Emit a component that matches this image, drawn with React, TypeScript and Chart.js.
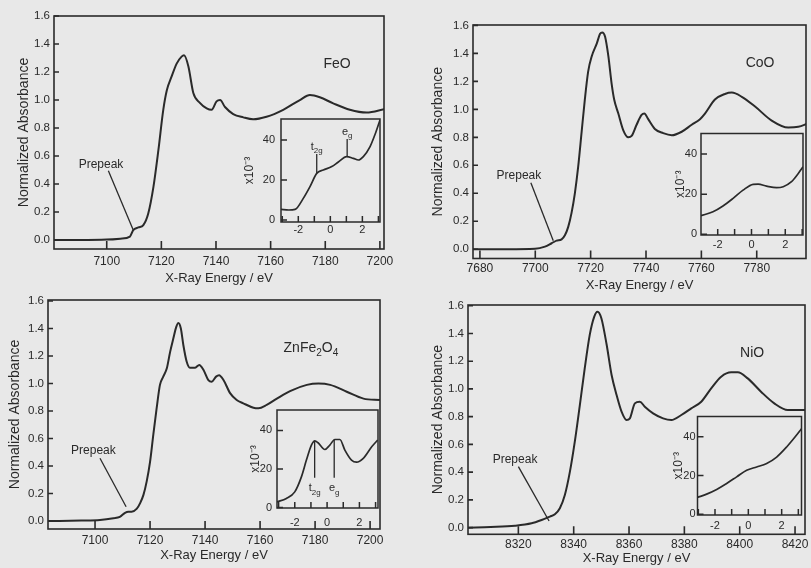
import React, { useEffect, useRef } from "react";
import { Chart, registerables } from "chart.js";

Chart.register(...registerables);

const FONT = "'Liberation Sans', Arial, Helvetica, sans-serif";
const INK = "#2a2a2a";
const BG = "#e8e8e8";

// ---------- FeO ----------
const feoEnergy = [7080.7, 7090, 7100, 7105, 7108.5, 7109.7, 7111.6, 7113.4, 7115.2, 7117.1, 7118.9, 7120.7, 7122, 7123.8, 7125.6, 7127.4, 7128.3, 7129.9, 7131.7, 7134.1, 7136.6, 7138.4, 7140.2, 7141.5, 7143.3, 7146.3, 7150, 7153.6, 7158.5, 7164.6, 7170.7, 7174.4, 7178, 7182.9, 7189, 7195.1, 7201.8];
const feoAbs = [0.0, 0.0, 0.003, 0.01, 0.025, 0.07, 0.09, 0.107, 0.19, 0.38, 0.64, 0.93, 1.07, 1.17, 1.26, 1.31, 1.32, 1.24, 1.05, 0.98, 0.94, 0.93, 0.99, 1.0, 0.95, 0.9, 0.876, 0.862, 0.88, 0.93, 1.0, 1.036, 1.02, 0.976, 0.93, 0.91, 0.935];
const feoInsetE = [-3.08, -2.6, -2.2, -1.69, -1.27, -0.85, -0.44, 0.09, 0.5, 1.02, 1.44, 1.75, 2.06, 2.48, 2.8, 3.1];
const feoInsetA = [5.3, 5.0, 5.3, 10.8, 16.7, 23.3, 25, 26.7, 29, 31.7, 30.8, 30, 31.7, 36.7, 43, 50];

// ---------- CoO ----------
const cooEnergy = [7677.5, 7690, 7699.9, 7703.5, 7705.9, 7707.7, 7709.5, 7710.7, 7711.9, 7713.1, 7714.3, 7715.5, 7716.7, 7717.9, 7719.1, 7720.4, 7722.2, 7723.4, 7724.2, 7725.2, 7726.4, 7727.6, 7728.5, 7730, 7731.8, 7733.6, 7734.8, 7736.6, 7738.4, 7739.4, 7740.8, 7743.2, 7746.2, 7749.3, 7752.9, 7756.5, 7759.5, 7761.3, 7764.9, 7768.5, 7771, 7774.6, 7779.4, 7785.4, 7791.4, 7795, 7798.6];
const cooAbs = [0.0, 0.0, 0.003, 0.019, 0.043, 0.062, 0.071, 0.1, 0.16, 0.26, 0.4, 0.59, 0.83, 1.07, 1.27, 1.38, 1.47, 1.54, 1.55, 1.52, 1.38, 1.18, 1.07, 0.97, 0.85, 0.8, 0.81, 0.89, 0.96, 0.97, 0.93, 0.86, 0.83, 0.815, 0.84, 0.89, 0.93, 0.97, 1.07, 1.11, 1.12, 1.09, 1.02, 0.92, 0.87, 0.875, 0.9];
const cooInsetE = [-2.99, -2.28, -1.69, -1.09, -0.5, 0.1, 0.39, 0.89, 1.48, 1.88, 2.37, 2.77, 3.05];
const cooInsetA = [9.3, 11.2, 14.1, 17.9, 22, 24.9, 25, 24, 23.2, 23.7, 26.2, 30.3, 33.6];

// ---------- ZnFe2O4 ----------
const znfEnergy = [7083, 7095, 7101.8, 7106.7, 7109, 7110.9, 7112.1, 7113.3, 7115.2, 7116.4, 7117.6, 7118.8, 7120, 7121.2, 7122.4, 7123.6, 7124.8, 7126.1, 7127.3, 7128.5, 7129.5, 7130.3, 7131.2, 7132.1, 7133.3, 7134.5, 7136.4, 7137.9, 7139.4, 7141.2, 7142.4, 7144, 7145.1, 7146.7, 7149.1, 7151.5, 7153.9, 7157.6, 7159.4, 7162.4, 7166.1, 7170.9, 7177, 7181.2, 7185.5, 7191.5, 7197.6, 7203.6];
const znfAbs = [0.0, 0.003, 0.007, 0.02, 0.03, 0.06, 0.068, 0.068, 0.09, 0.13, 0.19, 0.29, 0.43, 0.63, 0.82, 0.99, 1.05, 1.11, 1.23, 1.33, 1.41, 1.44, 1.4, 1.28, 1.16, 1.115, 1.115, 1.135, 1.1, 1.025, 1.013, 1.05, 1.06, 1.025, 0.93, 0.88, 0.856, 0.824, 0.82, 0.844, 0.89, 0.945, 0.99, 1.0, 0.99, 0.94, 0.89, 0.88];
const znfInsetE = [-3.1, -2.52, -2.0, -1.59, -1.28, -0.97, -0.76, -0.56, -0.14, 0.17, 0.48, 0.79, 1.1, 1.51, 1.82, 2.24, 2.76, 3.13];
const znfInsetA = [2.9, 4.7, 8.1, 15.9, 24.6, 32.4, 34.6, 33.6, 30.1, 32.4, 35.3, 35.3, 29.8, 24.6, 23.5, 25.5, 31.5, 35];

// ---------- NiO ----------
const nioEnergy = [8301.8, 8310, 8318.8, 8324.8, 8328.4, 8331.4, 8333.2, 8335, 8336.8, 8338.6, 8340.4, 8342.2, 8344, 8345.8, 8347.4, 8348.6, 8350, 8351.9, 8353.7, 8355.5, 8357.3, 8359.1, 8360.3, 8362.1, 8363.9, 8365.7, 8368.7, 8372.3, 8375.3, 8378.9, 8382.5, 8386.1, 8389.7, 8393.3, 8396.9, 8399.3, 8402.9, 8407.7, 8412.5, 8417.4, 8423.6];
const nioAbs = [0.0, 0.005, 0.014, 0.031, 0.055, 0.08, 0.096, 0.14, 0.235, 0.4, 0.62, 0.88, 1.15, 1.39, 1.52, 1.557, 1.51, 1.32, 1.1, 0.956, 0.836, 0.776, 0.788, 0.896, 0.908, 0.872, 0.824, 0.788, 0.776, 0.812, 0.86, 0.908, 1.004, 1.088, 1.12, 1.12, 1.076, 0.98, 0.896, 0.848, 0.848];
const nioInsetE = [-3.05, -2.5, -1.9, -1.3, -0.7, -0.1, 0.5, 1.1, 1.7, 2.3, 2.8, 3.19];
const nioInsetA = [8.7, 10.4, 12.8, 15.9, 19.3, 22.7, 24.4, 26.2, 29.5, 34.7, 39.8, 44.1];

const X_TITLE = "X-Ray Energy / eV";
const Y_TITLE = "Normalized Absorbance";
const INSET_Y_TITLE = "x10\u207B\u00B3";

type Run = { t: string; sub?: boolean };
type Annot =
  | { kind: "text"; x: number; y: number; runs: Run[]; size: number }
  | { kind: "line"; x1: number; y1: number; x2: number; y2: number };

interface PlotSpec {
  rect: [number, number, number, number];
  gutter: [number, number, number, number];
  xs: number[];
  ys: number[];
  xMin: number; xMax: number; yMin: number; yMax: number;
  xStep: number; yStep: number;
  xFmt: (v: number) => string;
  yFmt: (v: number) => string;
  xTitle?: string; xTitleSize?: number;
  yTitle: string; yTitleSize: number;
  xTickSize: number; yTickSize: number;
  xPad: number; yPad: number;
  xTickLen: number; yTickLen: number;
  lineWidth: number; frameWidth: number;
  annots: Annot[];
}

function drawRuns(ctx: CanvasRenderingContext2D, runs: Run[], cx: number, cy: number, size: number) {
  const sub = size * 0.72;
  const widths = runs.map((r) => {
    ctx.font = `${r.sub ? sub : size}px ${FONT}`;
    return ctx.measureText(r.t).width;
  });
  const total = widths.reduce((a, b) => a + b, 0);
  let x = cx - total / 2;
  const base = cy + size * 0.36;
  ctx.textAlign = "left";
  ctx.textBaseline = "alphabetic";
  ctx.fillStyle = INK;
  runs.forEach((r, i) => {
    ctx.font = `${r.sub ? sub : size}px ${FONT}`;
    ctx.fillText(r.t, x, r.sub ? base + size * 0.3 : base);
    x += widths[i];
  });
}

function stepTicks(step: number) {
  return (s: any) => {
    const out: { value: number }[] = [];
    const start = Math.ceil(s.min / step - 1e-9);
    const end = Math.floor(s.max / step + 1e-9);
    for (let k = start; k <= end; k++) out.push({ value: Math.round(k * step * 1000) / 1000 });
    s.ticks = out;
  };
}

function Plot({ spec }: { spec: PlotSpec }) {
  const ref = useRef<HTMLCanvasElement>(null);
  const [L, T, R, B] = spec.rect;
  const [gl, gt, gr, gb] = spec.gutter;
  const cl = Math.round(L - gl);
  const ct = Math.round(T - gt);
  const cr = Math.round(R + gr);
  const cb = Math.round(B + gb);
  const w = cr - cl;
  const h = cb - ct;

  useEffect(() => {
    const canvas = ref.current;
    if (!canvas) return;
    const padL = L - cl;
    const padT = T - ct;
    const padR = cr - R;
    const padB = cb - B;

    const plug = {
      id: "decor",
      afterDatasetsDraw(chart: any) {
        const { ctx, chartArea: a, scales } = chart;
        const xs = scales.x;
        const ys = scales.y;
        ctx.save();
        ctx.strokeStyle = INK;
        ctx.lineWidth = spec.frameWidth;
        ctx.strokeRect(a.left, a.top, a.right - a.left, a.bottom - a.top);
        ctx.beginPath();
        xs.ticks.forEach((t: any) => {
          const p = xs.getPixelForValue(t.value);
          ctx.moveTo(p, a.bottom);
          ctx.lineTo(p, a.bottom - spec.xTickLen);
        });
        ys.ticks.forEach((t: any) => {
          const p = ys.getPixelForValue(t.value);
          ctx.moveTo(a.left, p);
          ctx.lineTo(a.left + spec.yTickLen, p);
        });
        ctx.stroke();
        ctx.lineWidth = 1.3;
        for (const an of spec.annots) {
          if (an.kind === "line") {
            ctx.beginPath();
            ctx.moveTo(xs.getPixelForValue(an.x1), ys.getPixelForValue(an.y1));
            ctx.lineTo(xs.getPixelForValue(an.x2), ys.getPixelForValue(an.y2));
            ctx.stroke();
          } else {
            drawRuns(ctx, an.runs, xs.getPixelForValue(an.x), ys.getPixelForValue(an.y), an.size);
          }
        }
        ctx.restore();
      },
    };

    const chart = new Chart(canvas, {
      type: "line",
      data: {
        datasets: [
          {
            data: spec.xs.map((x, i) => ({ x, y: spec.ys[i] })),
            borderColor: INK,
            borderWidth: spec.lineWidth,
            pointRadius: 0,
            cubicInterpolationMode: "monotone",
            fill: false,
          },
        ],
      },
      options: {
        animation: false,
        responsive: false,
        devicePixelRatio: 1,
        events: [],
        layout: { padding: { left: 0, top: padT, right: padR, bottom: 0 } },
        plugins: { legend: { display: false }, tooltip: { enabled: false } },
        scales: {
          x: {
            type: "linear",
            min: spec.xMin,
            max: spec.xMax,
            grid: { display: false, drawTicks: false },
            border: { display: false },
            afterBuildTicks: stepTicks(spec.xStep),
            afterFit: (s: any) => {
              s.height = padB;
              s.paddingLeft = 0;
              s.paddingRight = 0;
              s.paddingTop = 0;
              s.paddingBottom = 0;
            },
            ticks: {
              autoSkip: false,
              maxRotation: 0,
              minRotation: 0,
              padding: spec.xPad,
              color: INK,
              font: { family: FONT, size: spec.xTickSize },
              callback: (v: any) => spec.xFmt(Number(v)),
            },
            title: spec.xTitle
              ? {
                  display: true,
                  text: spec.xTitle,
                  color: INK,
                  padding: 0,
                  font: { family: FONT, size: spec.xTitleSize || 13 },
                }
              : { display: false },
          },
          y: {
            type: "linear",
            min: spec.yMin,
            max: spec.yMax,
            grid: { display: false, drawTicks: false },
            border: { display: false },
            afterBuildTicks: stepTicks(spec.yStep),
            afterFit: (s: any) => {
              s.width = padL;
              s.paddingLeft = 0;
              s.paddingRight = 0;
              s.paddingTop = 0;
              s.paddingBottom = 0;
            },
            ticks: {
              autoSkip: false,
              padding: spec.yPad,
              color: INK,
              font: { family: FONT, size: spec.yTickSize },
              callback: (v: any) => spec.yFmt(Number(v)),
            },
            title: {
              display: true,
              text: spec.yTitle,
              color: INK,
              padding: 0,
              font: { family: FONT, size: spec.yTitleSize },
            },
          },
        },
      },
      plugins: [plug],
    } as any);
    return () => chart.destroy();
  }, []);

  return (
    <canvas
      ref={ref}
      width={w}
      height={h}
      style={{ position: "absolute", left: cl, top: ct, width: w, height: h }}
    />
  );
}

const intFmt = (v: number) => String(Math.round(v));
const oneDec = (v: number) => v.toFixed(1);
const evenOnly = (v: number) => (Math.round(v) % 2 === 0 ? String(Math.round(v)) : "");

function mainSpec(o: {
  rect: [number, number, number, number];
  gutter: [number, number, number, number];
  xs: number[]; ys: number[];
  xMin: number; xMax: number; yMin: number; yMax: number;
  xPad: number;
  annots: Annot[];
}): PlotSpec {
  return {
    ...o,
    xStep: 20,
    yStep: 0.2,
    xFmt: intFmt,
    yFmt: oneDec,
    xTitle: X_TITLE,
    xTitleSize: 13,
    yTitle: Y_TITLE,
    yTitleSize: 14,
    xTickSize: 12,
    yTickSize: 11.5,
    yPad: 4,
    xTickLen: 8,
    yTickLen: 5,
    lineWidth: 2,
    frameWidth: 1.6,
  };
}

function insetSpec(o: {
  rect: [number, number, number, number];
  gutter: [number, number, number, number];
  xs: number[]; ys: number[];
  xMin: number; xMax: number; yMin: number; yMax: number;
  xPad: number; yPad: number;
  annots: Annot[];
}): PlotSpec {
  return {
    ...o,
    xStep: 1,
    yStep: 20,
    xFmt: evenOnly,
    yFmt: intFmt,
    yTitle: INSET_Y_TITLE,
    yTitleSize: 12,
    xTickSize: 11,
    yTickSize: 11,
    xTickLen: 6,
    yTickLen: 6,
    lineWidth: 1.7,
    frameWidth: 1.5,
  };
}

const prepeak: Run[] = [{ t: "Prepeak" }];
const t2g: Run[] = [{ t: "t" }, { t: "2g", sub: true }];
const eg: Run[] = [{ t: "e" }, { t: "g", sub: true }];

const specs: PlotSpec[] = [
  mainSpec({
    rect: [54, 16, 384, 249],
    gutter: [38.4, 10, 14, 37],
    xs: feoEnergy, ys: feoAbs,
    xMin: 7080.7, xMax: 7201.5, yMin: -0.064, yMax: 1.6,
    xPad: 5,
    annots: [
      { kind: "text", x: 7184.3, y: 1.264, runs: [{ t: "FeO" }], size: 14 },
      { kind: "text", x: 7097.9, y: 0.548, runs: prepeak, size: 12 },
      { kind: "line", x1: 7100.6, y1: 0.495, x2: 7109.7, y2: 0.071 },
    ],
  }),
  mainSpec({
    rect: [473, 25, 806, 258.5],
    gutter: [43.4, 10, 5, 34],
    xs: cooEnergy, ys: cooAbs,
    xMin: 7677.5, xMax: 7797.8, yMin: -0.066, yMax: 1.603,
    xPad: 3,
    annots: [
      { kind: "text", x: 7781.2, y: 1.336, runs: [{ t: "CoO" }], size: 14 },
      { kind: "text", x: 7694.1, y: 0.53, runs: prepeak, size: 12 },
      { kind: "line", x1: 7698.4, y1: 0.475, x2: 7706.5, y2: 0.061 },
    ],
  }),
  mainSpec({
    rect: [48, 300, 380, 529],
    gutter: [41.4, 10, 14, 34],
    xs: znfEnergy, ys: znfAbs,
    xMin: 7082.9, xMax: 7203.6, yMin: -0.058, yMax: 1.607,
    xPad: 4,
    annots: [
      {
        kind: "text", x: 7178.5, y: 1.265, size: 14,
        runs: [{ t: "ZnFe" }, { t: "2", sub: true }, { t: "O" }, { t: "4", sub: true }],
      },
      { kind: "text", x: 7099.4, y: 0.516, runs: prepeak, size: 12 },
      { kind: "line", x1: 7101.8, y1: 0.456, x2: 7111.3, y2: 0.104 },
    ],
  }),
  mainSpec({
    rect: [468, 305, 805, 534.3],
    gutter: [38.4, 10, 6, 32],
    xs: nioEnergy, ys: nioAbs,
    xMin: 8301.8, xMax: 8423.6, yMin: -0.048, yMax: 1.605,
    xPad: 3.5,
    annots: [
      { kind: "text", x: 8404.5, y: 1.266, runs: [{ t: "NiO" }], size: 14 },
      { kind: "text", x: 8318.8, y: 0.5, runs: prepeak, size: 12 },
      { kind: "line", x1: 8320, y1: 0.44, x2: 8331.1, y2: 0.048 },
    ],
  }),
  insetSpec({
    rect: [281, 119, 380, 222],
    gutter: [39.2, 8, 8, 16],
    xs: feoInsetE, ys: feoInsetA,
    xMin: -3.08, xMax: 3.1, yMin: -1, yMax: 50.5,
    xPad: 1.4, yPad: 6,
    annots: [
      { kind: "line", x1: -0.85, y1: 23.5, x2: -0.85, y2: 33 },
      { kind: "text", x: -0.85, y: 37, runs: t2g, size: 11 },
      { kind: "line", x1: 1.05, y1: 31.6, x2: 1.05, y2: 40.5 },
      { kind: "text", x: 1.05, y: 44.5, runs: eg, size: 11 },
    ],
  }),
  insetSpec({
    rect: [701, 133.5, 803, 235],
    gutter: [28.2, 8, 7, 18],
    xs: cooInsetE, ys: cooInsetA,
    xMin: -2.99, xMax: 3.05, yMin: -0.35, yMax: 50.2,
    xPad: 3.4, yPad: 4,
    annots: [],
  }),
  insetSpec({
    rect: [277, 410, 378, 508],
    gutter: [29.2, 8, 8, 20],
    xs: znfInsetE, ys: znfInsetA,
    xMin: -3.1, xMax: 3.15, yMin: -0.26, yMax: 50.6,
    xPad: 8, yPad: 5,
    annots: [
      { kind: "line", x1: -0.77, y1: 34.5, x2: -0.77, y2: 15.5 },
      { kind: "text", x: -0.77, y: 10.5, runs: t2g, size: 11 },
      { kind: "line", x1: 0.44, y1: 35.3, x2: 0.44, y2: 15.5 },
      { kind: "text", x: 0.44, y: 10.5, runs: eg, size: 11 },
    ],
  }),
  insetSpec({
    rect: [697.5, 416.5, 801.5, 515],
    gutter: [26.7, 8, 8, 18],
    xs: nioInsetE, ys: nioInsetA,
    xMin: -3.05, xMax: 3.19, yMin: -0.36, yMax: 50.4,
    xPad: 4.4, yPad: 2,
    annots: [],
  }),
];

export default function App() {
  return (
    <div
      style={{
        position: "fixed",
        left: 0,
        top: 0,
        width: 811,
        height: 568,
        background: BG,
        overflow: "hidden",
      }}
    >
      {specs.map((s, i) => (
        <Plot key={i} spec={s} />
      ))}
    </div>
  );
}
